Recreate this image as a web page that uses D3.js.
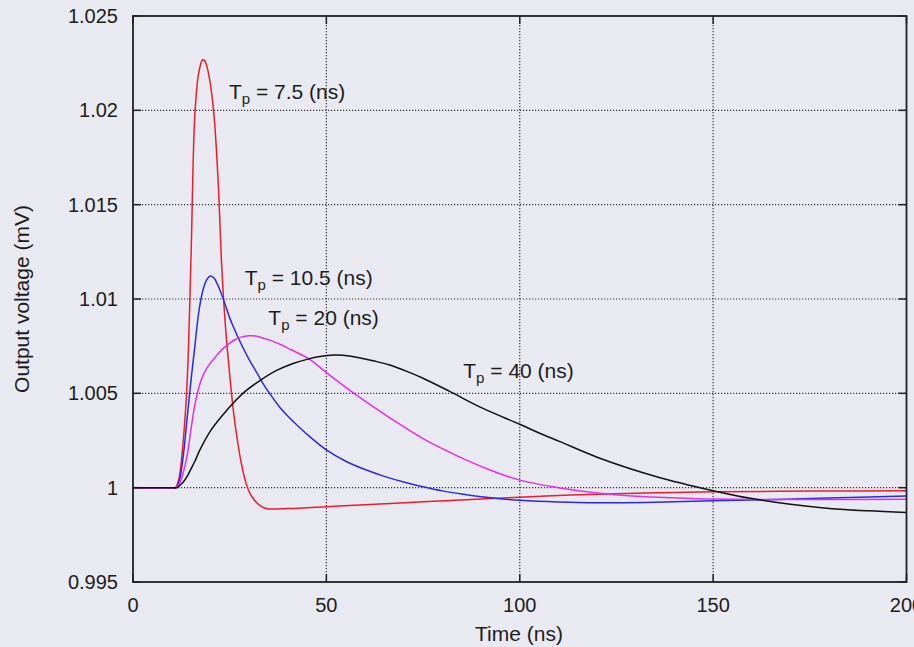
<!DOCTYPE html>
<html>
<head>
<meta charset="utf-8">
<script src="https://cdn.jsdelivr.net/npm/d3@7"></script>
<style>
  html, body { margin: 0; padding: 0; background: #e9e9f2; }
  svg { display: block; }
  text { font-family: "Liberation Sans", Arial, Helvetica, sans-serif; fill: #1c1c1c; }
</style>
</head>
<body>
<svg id="chart" width="914" height="647"></svg>
<script>
// Pulse response of the output stage for several peaking times T_p
// Each series: [time (ns), output voltage (mV)]
const tp75 = [
  [0, 1], [5, 1], [10, 1], [11, 1.0000], [11.5, 1.0002], [12, 1.0006], [13, 1.0025], [14, 1.0056],
  [15, 1.0122], [16, 1.0198], [17, 1.0220], [18, 1.02268], [18.5, 1.02265],
  [19, 1.0224], [20, 1.0214], [21, 1.0196], [22, 1.0163], [23, 1.0115],
  [24, 1.0083], [25, 1.0060], [26, 1.0040], [27, 1.0025], [28, 1.0013],
  [29, 1.0004], [30, 0.9998], [31, 0.99945], [32, 0.9992], [33, 0.99903],
  [34, 0.99892], [35, 0.99887], [40, 0.99889], [50, 0.99899], [60, 0.99910],
  [75, 0.99925], [86, 0.99936], [100, 0.99949], [110, 0.99958], [120, 0.99965],
  [135, 0.99973], [150, 0.99978], [175, 0.99982], [200, 0.99984]
];
const tp105 = [
  [0, 1], [5, 1], [10, 1], [11, 1], [12, 1.0004], [13, 1.0017], [14, 1.0037], [15, 1.0057],
  [16, 1.0075], [17, 1.0093], [18, 1.0104], [19, 1.0110], [20, 1.01122],
  [21, 1.0111], [22, 1.0107], [23, 1.0102], [24, 1.0096], [25, 1.0090],
  [26, 1.0085], [28, 1.0076], [30, 1.0068], [32, 1.0061], [34, 1.0054],
  [36, 1.0048], [38, 1.00425], [40, 1.0038], [43, 1.0032], [46, 1.00265],
  [50, 1.0020], [55, 1.0014], [60, 1.00096], [65, 1.0006], [70, 1.0003],
  [75, 1.00005], [80, 0.99983], [85, 0.99966], [90, 0.99952], [95, 0.99941],
  [100, 0.99933], [110, 0.99924], [120, 0.99920], [135, 0.99923], [150, 0.99930],
  [175, 0.99942], [200, 0.99956]
];
const tp20 = [
  [0, 1], [5, 1], [10, 1], [11, 1], [12, 1.0002], [13, 1.0008], [14, 1.0017], [15, 1.0031],
  [16, 1.0044], [17, 1.0053], [18, 1.0059], [19, 1.0063], [20, 1.0066],
  [21, 1.00685], [22, 1.0071], [24, 1.0075], [26, 1.0078], [28, 1.00798],
  [30, 1.00805], [32, 1.00803], [34, 1.0079], [35.4, 1.00782], [38, 1.0076],
  [40, 1.0074], [43, 1.0071], [45.7, 1.0068], [50, 1.0061], [57.8, 1.0049],
  [66.4, 1.0037], [75, 1.0026], [83.7, 1.0017], [92.3, 1.00094], [100, 1.0004],
  [110, 1.0000], [120, 0.99972], [130, 0.99955], [140, 0.99946], [150, 0.99940],
  [175, 0.99937], [200, 0.99939]
];
const tp40 = [
  [0, 1], [5, 1], [10, 1], [11.5, 1], [12, 1.0001], [13, 1.0003], [14, 1.0006], [15, 1.0010],
  [16, 1.0014], [17.3, 1.0020], [20, 1.0030], [23, 1.0038], [26, 1.0045],
  [29, 1.0051], [33, 1.0057], [37, 1.0062], [41.4, 1.00658], [45, 1.0068],
  [48.3, 1.00695], [52, 1.00703], [56, 1.00698], [63, 1.00668], [66.4, 1.0065],
  [71.6, 1.0061], [75, 1.0058], [81.9, 1.0051], [90.5, 1.0042], [100, 1.00336],
  [105, 1.0029], [110.4, 1.00244], [120.7, 1.00156], [135.4, 1.00058],
  [150, 0.99984], [160, 0.99942], [170, 0.99912], [180, 0.99890], [190, 0.99877],
  [200, 0.99868]
];

const seriesNames = ["7.5", "10.5", "20", "40"];
const seriesData = [tp75, tp105, tp20, tp40];
const seriesColors = ["#ee1c2c", "#2a2ae0", "#e62ee6", "#111111"];
// label anchor (time, voltage) for each series annotation
const labelAnchors = [[24.8, 1.02059], [28.9, 1.01074], [35.0, 1.00862], [85.4, 1.00579]];

const xTicks = [0, 50, 100, 150, 200];
const yTicks = [0.995, 1, 1.005, 1.01, 1.015, 1.02, 1.025];
const yTickLabels = ["0.995", "1", "1.005", "1.01", "1.015", "1.02", "1.025"];
const xTitle = "Time (ns)";
const yTitle = "Output voltage (mV)";

const svg = d3.select("#chart");
const plotL = 133, plotR = 906.5, plotT = 16, plotB = 582;

const x = d3.scaleLinear().domain([0, 200]).range([plotL, plotR]);
const y = d3.scaleLinear().domain([0.995, 1.025]).range([plotB, plotT]);

// grid lines (dotted), skipping the frame edges
const grid = svg.append("g");
grid.selectAll("line.gx").data(xTicks.slice(1, -1)).join("line")
  .attr("x1", d => x(d)).attr("x2", d => x(d))
  .attr("y1", plotT).attr("y2", plotB)
  .attr("stroke", "#333").attr("stroke-width", 1.2).attr("stroke-dasharray", "1.2,1.8");
grid.selectAll("line.gy").data(yTicks.slice(1, -1)).join("line")
  .attr("y1", d => y(d)).attr("y2", d => y(d))
  .attr("x1", plotL).attr("x2", plotR)
  .attr("stroke", "#333").attr("stroke-width", 1.2).attr("stroke-dasharray", "1.2,1.8");

// tick marks pointing inward on all four sides
const tickLen = 8;
const ticks = svg.append("g").attr("stroke", "#222").attr("stroke-width", 1.5);
xTicks.forEach(t => {
  ticks.append("line").attr("x1", x(t)).attr("x2", x(t)).attr("y1", plotB).attr("y2", plotB - tickLen);
  ticks.append("line").attr("x1", x(t)).attr("x2", x(t)).attr("y1", plotT).attr("y2", plotT + tickLen);
});
yTicks.forEach(t => {
  ticks.append("line").attr("y1", y(t)).attr("y2", y(t)).attr("x1", plotL).attr("x2", plotL + tickLen);
  ticks.append("line").attr("y1", y(t)).attr("y2", y(t)).attr("x1", plotR).attr("x2", plotR - tickLen);
});

// curves
svg.append("clipPath").attr("id", "plotClip").append("rect")
  .attr("x", plotL).attr("y", plotT).attr("width", plotR - plotL).attr("height", plotB - plotT);

const line = d3.line().x(d => x(d[0])).y(d => y(d[1])).curve(d3.curveCatmullRom.alpha(0.5));
const curves = svg.append("g").attr("clip-path", "url(#plotClip)");
seriesData.forEach((s, i) => {
  curves.append("path").datum(s)
    .attr("d", line)
    .attr("fill", "none")
    .attr("stroke", seriesColors[i])
    .attr("stroke-width", 1.5);
});

// frame
svg.append("rect")
  .attr("x", plotL).attr("y", plotT).attr("width", plotR - plotL).attr("height", plotB - plotT)
  .attr("fill", "none").attr("stroke", "#222").attr("stroke-width", 1.8);

// tick labels
svg.append("g").selectAll("text").data(xTicks).join("text")
  .attr("x", d => x(d)).attr("y", 612)
  .attr("text-anchor", "middle").attr("font-size", 20)
  .text(d => d);
svg.append("g").selectAll("text").data(yTicks).join("text")
  .attr("x", 118).attr("y", d => y(d) + 7)
  .attr("text-anchor", "end").attr("font-size", 20)
  .text((d, i) => yTickLabels[i]);

// axis titles
svg.append("text").attr("x", 519).attr("y", 641)
  .attr("text-anchor", "middle").attr("font-size", 21).text(xTitle);
svg.append("text")
  .attr("transform", `translate(29, ${(plotT + plotB) / 2}) rotate(-90)`)
  .attr("text-anchor", "middle").attr("font-size", 21).text(yTitle);

// series annotations: T_p = value (ns)
seriesNames.forEach((name, i) => {
  const [ax, ay] = labelAnchors[i];
  const t = svg.append("text").attr("x", x(ax)).attr("y", y(ay)).attr("font-size", 21);
  t.append("tspan").text("T");
  t.append("tspan").attr("font-size", 15).attr("dy", 5).text("p");
  t.append("tspan").attr("dy", -5).text(` = ${name} (ns)`);
});
</script>
</body>
</html>
